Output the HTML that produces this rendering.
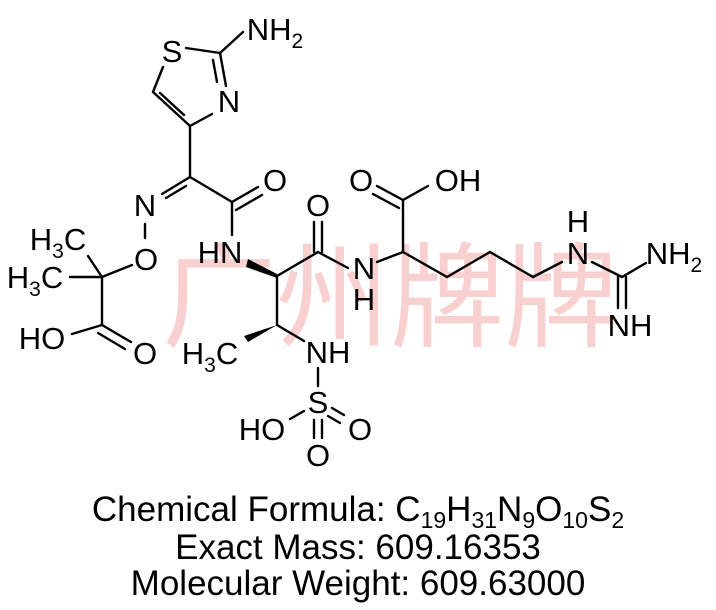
<!DOCTYPE html>
<html><head><style>body{margin:0;background:#fff}svg{display:block}</style></head><body>
<svg width="716" height="610" viewBox="0 0 716 610" xmlns="http://www.w3.org/2000/svg">
<text x="390" y="338" font-family="'Noto Sans CJK SC',sans-serif" font-size="114" fill="#f9d0d0" text-anchor="middle">广州牌牌</text>
<g stroke="#000" stroke-width="2.4" fill="none" stroke-linecap="round">
<line x1="186" y1="48" x2="220" y2="53"/>
<line x1="220" y1="53" x2="243" y2="32"/>
<line x1="220" y1="53" x2="226" y2="86"/><line x1="213" y1="60" x2="217" y2="82"/>
<line x1="212" y1="114" x2="190" y2="126"/>
<line x1="190" y1="126" x2="153" y2="92"/><line x1="184" y1="115" x2="160" y2="93"/>
<line x1="153" y1="92" x2="163" y2="67"/>
<line x1="190" y1="126" x2="190" y2="177"/>
<line x1="190" y1="177" x2="162" y2="194"/><line x1="186" y1="186" x2="166" y2="198"/>
<line x1="190" y1="177" x2="232" y2="202"/>
<line x1="232" y1="202" x2="258" y2="187"/><line x1="236" y1="210" x2="262" y2="195"/>
<line x1="232" y1="202" x2="232" y2="235"/>
<line x1="145" y1="224" x2="145" y2="238"/>
<line x1="132" y1="265" x2="102" y2="277"/>
<line x1="102" y1="277" x2="88" y2="256"/>
<line x1="102" y1="277" x2="70" y2="277"/>
<line x1="102" y1="277" x2="102" y2="325"/>
<line x1="102" y1="325" x2="72" y2="334"/>
<line x1="102" y1="325" x2="131" y2="342"/><line x1="98" y1="333" x2="125" y2="349"/>
<line x1="277" y1="276" x2="318" y2="252"/>
<line x1="314" y1="252" x2="314" y2="222"/><line x1="322" y1="252" x2="322" y2="222"/>
<line x1="318" y1="252" x2="348" y2="268"/>
<line x1="277" y1="276" x2="277" y2="325"/>
<line x1="277" y1="325" x2="304" y2="341"/>
<line x1="318" y1="368" x2="318" y2="386"/>
<line x1="304" y1="411" x2="290" y2="419"/>
<line x1="332" y1="408" x2="344" y2="415"/><line x1="328" y1="416" x2="340" y2="423"/>
<line x1="314" y1="420" x2="314" y2="438"/><line x1="322" y1="420" x2="322" y2="438"/>
<line x1="377" y1="262" x2="403" y2="252"/>
<line x1="403" y1="252" x2="403" y2="200"/>
<line x1="403" y1="200" x2="377" y2="186"/><line x1="399" y1="208" x2="373" y2="194"/>
<line x1="403" y1="200" x2="428" y2="186"/>
<line x1="403" y1="252" x2="447" y2="277"/>
<line x1="447" y1="277" x2="490" y2="252"/>
<line x1="490" y1="252" x2="533" y2="277"/>
<line x1="533" y1="277" x2="562" y2="262"/>
<line x1="592" y1="262" x2="622" y2="277"/>
<line x1="622" y1="277" x2="646" y2="263"/>
<line x1="618" y1="277" x2="618" y2="308"/><line x1="626" y1="277" x2="626" y2="308"/>
</g>
<g fill="#000">
<polygon points="248,259 277,274 277,278 246,267"/>
<polygon points="277,325 248,342 244,336"/>
</g>
<g font-family="'Liberation Sans',sans-serif" font-size="31" fill="#000" text-anchor="middle">
<text x="172" y="62">S</text>
<text x="275" y="40">NH<tspan font-size="21" dy="8">2</tspan></text>
<text x="229" y="112">N</text>
<text x="145" y="216">N</text>
<text x="275" y="191">O</text>
<text x="220" y="263">HN</text>
<text x="146" y="270">O</text>
<text x="58" y="250">H<tspan font-size="21" dy="8">3</tspan><tspan dy="-8">C</tspan></text>
<text x="35" y="288">H<tspan font-size="21" dy="8">3</tspan><tspan dy="-8">C</tspan></text>
<text x="42" y="349">HO</text>
<text x="145" y="364">O</text>
<text x="318" y="216">O</text>
<text x="364" y="279">N</text><text x="364" y="310">H</text>
<text x="210" y="364">H<tspan font-size="21" dy="8">3</tspan><tspan dy="-8">C</tspan></text>
<text x="328" y="363">NH</text>
<text x="318" y="413">S</text>
<text x="262" y="440">HO</text>
<text x="360" y="440">O</text>
<text x="318" y="466">O</text>
<text x="361" y="191">O</text>
<text x="458" y="191">OH</text>
<text x="578" y="232">H</text>
<text x="578" y="264">N</text>
<text x="674" y="264">NH<tspan font-size="21" dy="8">2</tspan></text>
<text x="630" y="336">NH</text>
</g>
<g font-family="'Liberation Sans',sans-serif" font-size="35" fill="#000" text-anchor="middle">
<text x="358" y="521">Chemical Formula: C<tspan font-size="23" dy="7">19</tspan><tspan dy="-7">H</tspan><tspan font-size="23" dy="7">31</tspan><tspan dy="-7">N</tspan><tspan font-size="23" dy="7">9</tspan><tspan dy="-7">O</tspan><tspan font-size="23" dy="7">10</tspan><tspan dy="-7">S</tspan><tspan font-size="23" dy="7">2</tspan></text>
<text x="358" y="559">Exact Mass: 609.16353</text>
<text x="358" y="595">Molecular Weight: 609.63000</text>
</g>
</svg>
</body></html>
